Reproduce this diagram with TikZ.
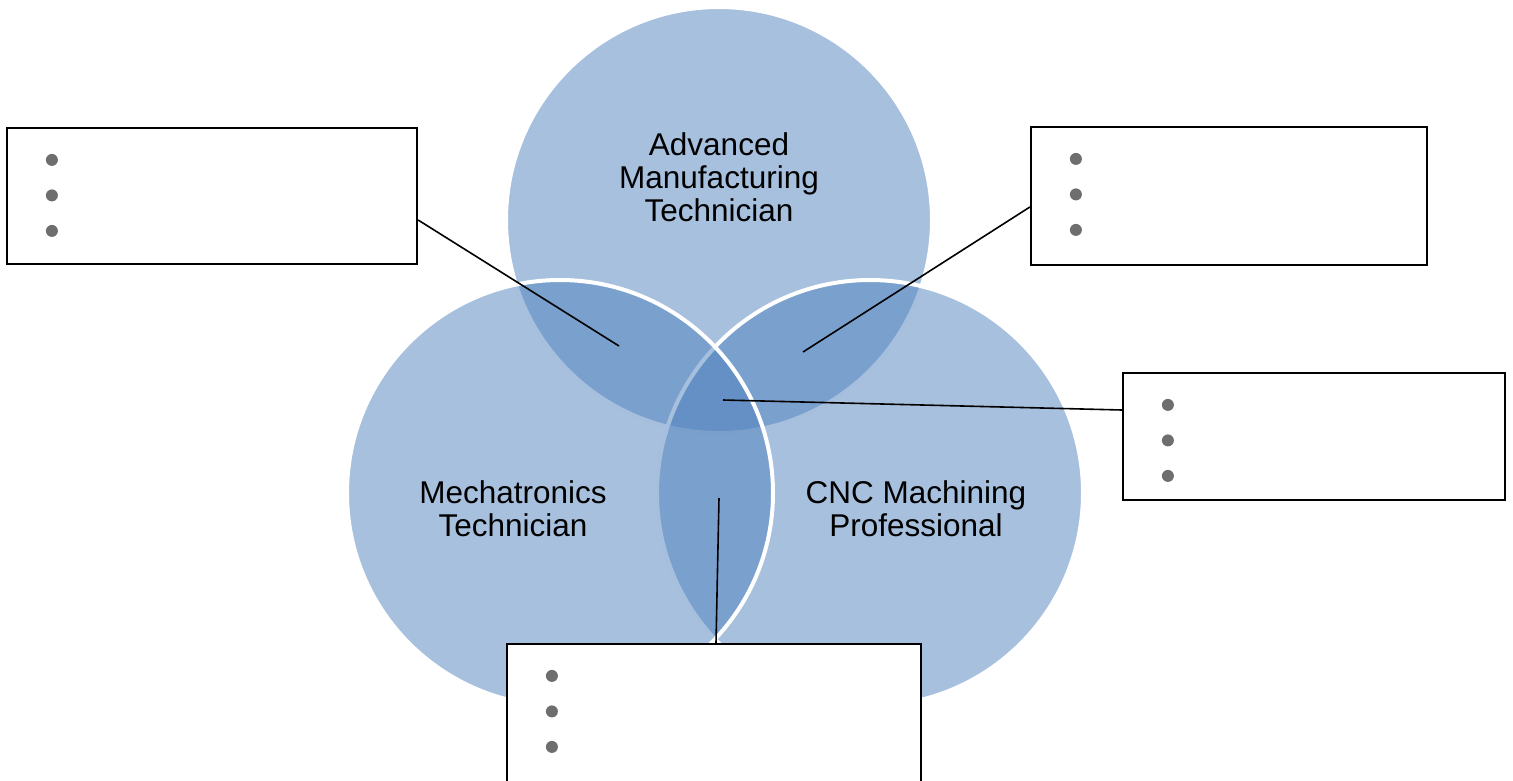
\documentclass[tikz,border=0pt]{standalone}
\usepackage{fontspec}
\setmainfont{Liberation Sans}
\definecolor{accent}{RGB}{79,129,189}
\definecolor{bulletgray}{RGB}{110,110,110}
\begin{document}
\begin{tikzpicture}[x=1pt,y=-1pt,
  venn/.style={fill=accent,fill opacity=0.5,draw=white,line width=4pt},
  lbl/.style={align=center,font=\fontsize{31.5}{33}\selectfont,inner sep=0pt,text=black},
  box/.style={draw=black,line width=2.2pt,fill=white,inner sep=0pt},
  dot/.style={circle,fill=bulletgray,inner sep=0pt,minimum size=12pt},
  conn/.style={draw=black,line width=1.6pt}]
\useasboundingbox (0,0) rectangle (1513,780);
% circles: top, right, left
\path[venn] (719,220) circle[radius=213];
\path[venn] (870,493) circle[radius=213];
\path[venn] (560,493) circle[radius=213];
% labels
\node[lbl] (tA) at (719,177) {Advanced\\Manufacturing\\Technician};
\node[lbl] (tM) at (513,509) {Mechatronics\\Technician};
\node[lbl] (tC) at (916,509) {CNC Machining\\Professional};
% inner ends of connectors
\coordinate (pAM) at (619,346);
\coordinate (pAC) at (803,352);
\coordinate (pAll) at (723,400);
\coordinate (pMC) at (719,498);
% boxes
\node[box,minimum width=410pt,minimum height=136pt] (lbox) at (212,196) {};
\node[box,minimum width=396pt,minimum height=138pt] (trbox) at (1229,196) {};
\node[box,minimum width=382pt,minimum height=127pt] (rbox) at (1314,436.5) {};
\node[box,minimum width=414pt,minimum height=150pt] (bbox) at (714,719) {};
% bullets
\foreach \b in {lbox,trbox,rbox,bbox}{
  \foreach \dy [count=\i] in {33,68.5,104}{
    \node[dot] (\b-d\i) at ([xshift=46pt,yshift=-\dy pt]\b.north west) {};
  }
}
% connectors
\draw[conn] ([yshift=-24pt]lbox.east) -- (pAM);
\draw[conn] ([yshift=-11pt]trbox.west) -- (pAC);
\draw[conn] ([yshift=26.5pt]rbox.west) -- (pAll);
\draw[conn] ([xshift=2pt]bbox.north) -- (pMC);
\end{tikzpicture}
\end{document}
